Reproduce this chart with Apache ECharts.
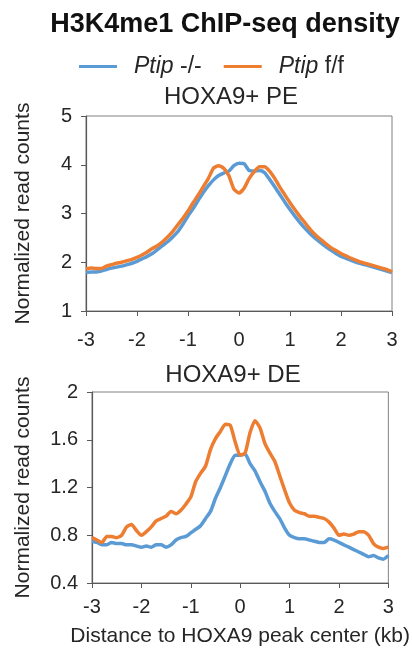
<!DOCTYPE html>
<html>
<head>
<meta charset="utf-8">
<script src="https://cdn.jsdelivr.net/npm/echarts@6/dist/echarts.min.js"></script>
<style>
html,body{margin:0;padding:0;background:#fff;}
#chart{width:412px;height:651px;}
</style>
</head>
<body>
<div id="chart"></div>
<script>
// Distance to peak center (kb)
var distanceKb = [-3.0,-2.9,-2.8,-2.7,-2.6,-2.5,-2.4,-2.3,-2.2,-2.1,-2.0,-1.9,-1.8,-1.7,-1.6,-1.5,-1.4,-1.3,-1.2,-1.1,-1.0,-0.9,-0.8,-0.7,-0.6,-0.5,-0.4,-0.3,-0.2,-0.1,0.0,0.1,0.2,0.3,0.4,0.5,0.6,0.7,0.8,0.9,1.0,1.1,1.2,1.3,1.4,1.5,1.6,1.7,1.8,1.9,2.0,2.1,2.2,2.3,2.4,2.5,2.6,2.7,2.8,2.9,3.0];

// HOXA9+ PE
var peKO = [1.79,1.80,1.80,1.82,1.85,1.88,1.90,1.92,1.95,1.98,2.02,2.07,2.12,2.18,2.26,2.34,2.42,2.52,2.63,2.78,2.95,3.10,3.27,3.43,3.57,3.69,3.78,3.83,3.87,3.98,4.03,4.02,3.88,3.87,3.88,3.84,3.70,3.55,3.39,3.23,3.08,2.94,2.81,2.69,2.58,2.49,2.40,2.32,2.25,2.18,2.12,2.08,2.04,2.00,1.97,1.94,1.91,1.88,1.85,1.82,1.79];
var peFF = [1.86,1.88,1.87,1.87,1.92,1.95,1.98,2.00,2.03,2.06,2.10,2.15,2.21,2.28,2.34,2.42,2.52,2.63,2.77,2.90,3.05,3.22,3.38,3.55,3.72,3.93,3.98,3.93,3.78,3.50,3.42,3.52,3.72,3.86,3.96,3.96,3.87,3.72,3.54,3.38,3.22,3.07,2.93,2.80,2.67,2.56,2.47,2.38,2.30,2.24,2.18,2.13,2.08,2.04,2.00,1.97,1.94,1.91,1.88,1.85,1.81];

// HOXA9+ DE
var deKO = [0.75,0.74,0.72,0.72,0.74,0.73,0.73,0.72,0.72,0.71,0.70,0.71,0.70,0.72,0.72,0.70,0.72,0.76,0.78,0.79,0.82,0.85,0.88,0.94,1.00,1.11,1.20,1.30,1.40,1.47,1.47,1.48,1.40,1.34,1.25,1.17,1.07,1.00,0.94,0.86,0.80,0.78,0.77,0.77,0.76,0.75,0.74,0.74,0.77,0.76,0.74,0.72,0.70,0.68,0.66,0.64,0.62,0.63,0.61,0.60,0.63];
var deFF = [0.78,0.76,0.74,0.79,0.79,0.78,0.80,0.87,0.89,0.84,0.80,0.83,0.87,0.92,0.94,0.96,1.00,0.98,1.01,1.06,1.12,1.25,1.32,1.38,1.52,1.61,1.67,1.73,1.72,1.58,1.47,1.49,1.66,1.76,1.70,1.57,1.49,1.42,1.30,1.18,1.07,1.01,0.99,0.98,0.96,0.96,0.95,0.94,0.91,0.86,0.80,0.81,0.80,0.81,0.83,0.83,0.80,0.73,0.70,0.69,0.70];

var xTicks = [-3,-2,-1,0,1,2,3];
var peTicks = [1,2,3,4,5];
var deTicks = [0.4,0.8,1.2,1.6,2];

var seriesNames = ['Ptip -/-','Ptip f/f'];
var BLUE = '#5B9BD5', ORANGE = '#ED7D31';
var TXT = '#262626', AXIS = '#595959';
var FONT = 'Liberation Sans, Arial, sans-serif';

function pairs(xs, ys){ return xs.map(function(x,i){ return [x, ys[i]]; }); }

function xAxisCfg(idx, name){
  return {
    type:'value', gridIndex:idx, min:xTicks[0], max:xTicks[xTicks.length-1], interval:1,
    name:name||'', nameLocation:'middle', nameGap:43,
    nameTextStyle:{color:TXT,fontSize:21,fontFamily:FONT},
    axisLine:{onZero:false,lineStyle:{color:AXIS,width:1.2}},
    axisTick:{show:true,length:5,lineStyle:{color:AXIS}},
    axisLabel:{color:TXT,fontSize:20,fontFamily:FONT,margin: idx===0?19:14},
    splitLine:{show:false}
  };
}
function yAxisCfg(idx, ticks){
  return {
    type:'value', gridIndex:idx, min:ticks[0], max:ticks[ticks.length-1], interval:ticks[1]-ticks[0],
    name:'Normalized read counts', nameLocation:'middle', nameGap: idx===0?52:58,
    nameTextStyle:{color:TXT,fontSize:21,fontFamily:FONT},
    axisLine:{show:true,onZero:false,lineStyle:{color:AXIS,width:1.2}},
    axisTick:{show:true,length:5,lineStyle:{color:AXIS}},
    axisLabel:{color:TXT,fontSize:20,fontFamily:FONT,margin:14,
      formatter:function(v){ return String(Math.round(v*10)/10); }},
    splitLine:{show:false}
  };
}
function line(name, data, color, xi, yi){
  return {name:name,type:'line',xAxisIndex:xi,yAxisIndex:yi,data:data,showSymbol:false,
    symbol:'none',smooth:0.2,lineStyle:{color:color,width:3.5},itemStyle:{color:color},
    animation:false,z: color===BLUE?2:3};
}

var chart = echarts.init(document.getElementById('chart'), null, {renderer:'canvas'});
chart.setOption({
  backgroundColor:'#fff',
  animation:false,
  title:[
    {text:'H3K4me1 ChIP-seq density',left:220,top:6,textAlign:'center',
      textStyle:{color:'#111',fontSize:27,fontWeight:'bold',fontFamily:FONT}},
    {text:'HOXA9+ PE',left:226,top:80,textAlign:'center',
      textStyle:{color:TXT,fontSize:24,fontWeight:'normal',fontFamily:FONT}},
    {text:'HOXA9+ DE',left:228,top:358,textAlign:'center',
      textStyle:{color:TXT,fontSize:24,fontWeight:'normal',fontFamily:FONT}}
  ],
  legend:{
    data:seriesNames, left:74, top:50, itemWidth:38, itemHeight:3, itemGap:22,
    icon:'rect',
    formatter:function(n){ var p=n.split(' '); return '{i|'+p[0]+'} '+p.slice(1).join(' '); },
    textStyle:{color:TXT,fontSize:23,fontFamily:FONT,padding:[0,0,0,12],
      rich:{i:{fontStyle:'italic',fontSize:23,fontFamily:FONT,color:TXT}}}
  },
  grid:[
    {left:86,right:20,top:116,height:195,show:true,borderColor:'#808080',borderWidth:1,backgroundColor:'transparent'},
    {left:92,right:14,top:392,height:191,show:true,borderColor:'#808080',borderWidth:1,backgroundColor:'transparent'}
  ],
  xAxis:[xAxisCfg(0), xAxisCfg(1,'Distance to HOXA9 peak center (kb)')],
  yAxis:[yAxisCfg(0,peTicks), yAxisCfg(1,deTicks)],
  series:[
    line(seriesNames[0], pairs(distanceKb,peKO), BLUE, 0, 0),
    line(seriesNames[1], pairs(distanceKb,peFF), ORANGE, 0, 0),
    line(seriesNames[0], pairs(distanceKb,deKO), BLUE, 1, 1),
    line(seriesNames[1], pairs(distanceKb,deFF), ORANGE, 1, 1)
  ]
});
</script>
</body>
</html>
